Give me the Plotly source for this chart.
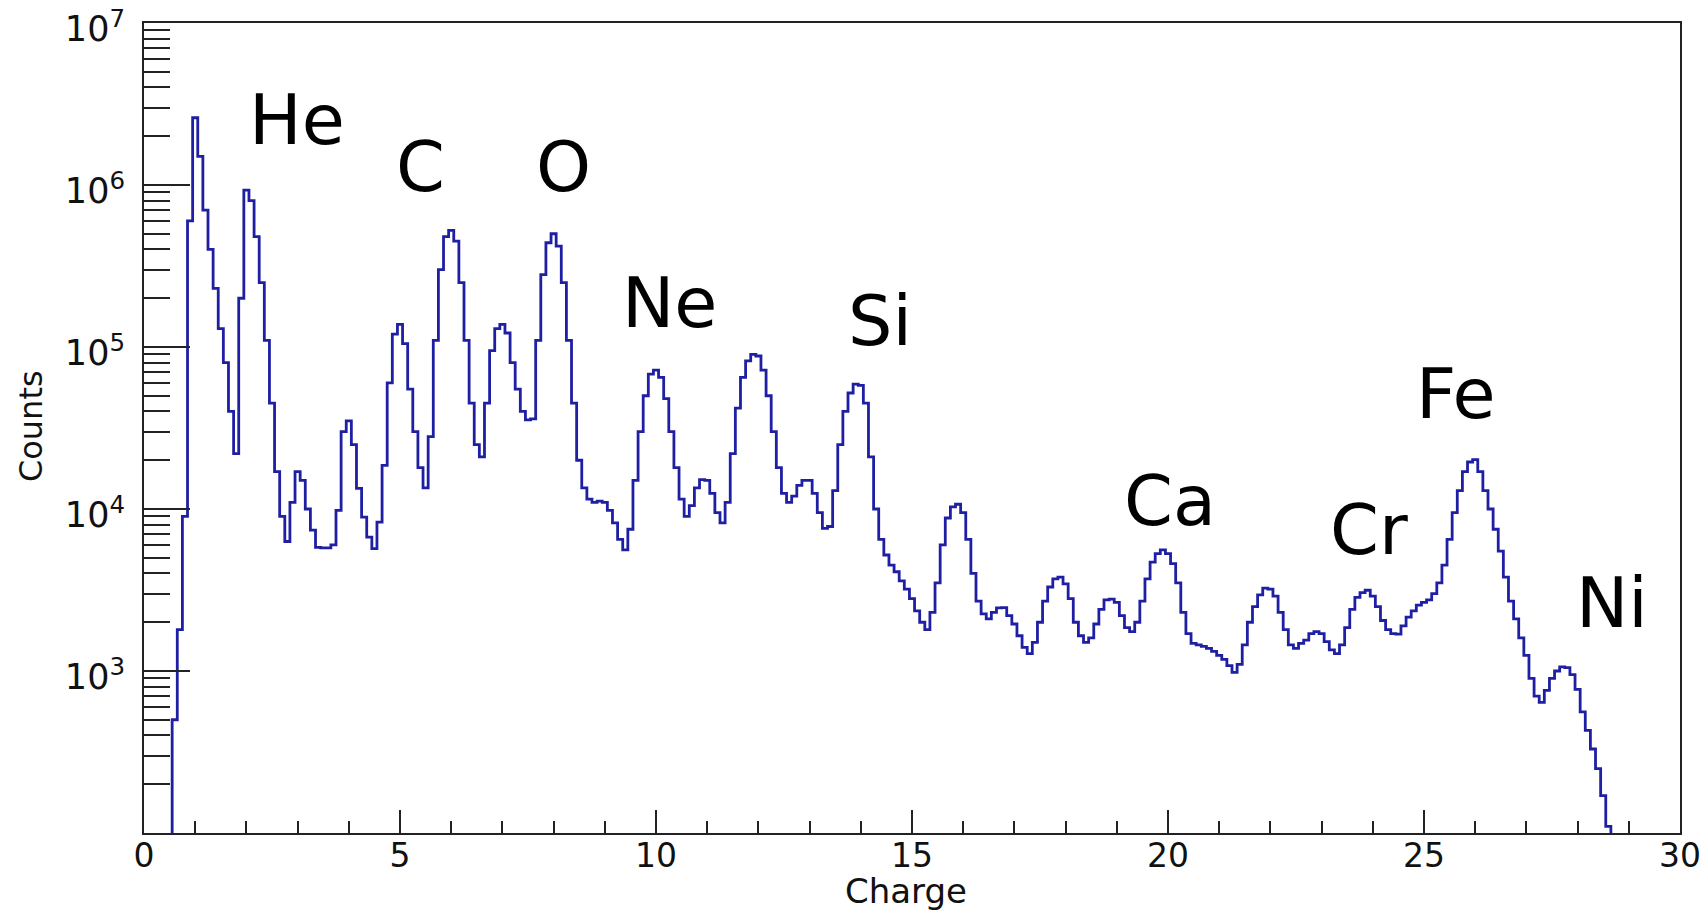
import plotly.graph_objects as go

# ---------------- data ----------------
bin_start = 0.4      # centre of first bin (charge units)
bin_width = 0.1

counts = [
    20, 60, 500, 1800, 9000, 600000,                                               # 0.4-0.9
    2600000, 1500000, 700000, 400000, 230000, 130000, 80000, 40000, 22000, 200000,  # 1.x
    930000, 800000, 480000, 250000, 110000, 45000, 17000, 9000, 6300, 11000,       # 2.x
    17000, 15000, 10000, 7400, 5800, 5750, 5750, 6000, 9800, 30000,                # 3.x
    35000, 25000, 13400, 8900, 6700, 5700, 8300, 18600, 60000, 120000,             # 4.x
    138000, 105000, 55000, 30000, 18000, 13500, 28000, 110000, 300000, 480000,     # 5.x
    525000, 450000, 250000, 110000, 45000, 25000, 21000, 45000, 95000, 130000,     # 6.x
    138000, 122000, 80000, 55000, 40000, 35500, 36000, 110000, 280000, 440000,     # 7.x
    500000, 420000, 250000, 110000, 45000, 20000, 13500, 11500, 11000, 11200,      # 8.x
    11000, 9800, 8200, 6500, 5600, 7500, 15000, 30000, 50000, 68000,               # 9.x
    72000, 65000, 48000, 30000, 18000, 11500, 9000, 10500, 13500, 15200,           # 10.x
    15000, 12500, 9500, 8200, 11000, 22000, 42000, 65000, 82000, 90000,            # 11.x
    88000, 72000, 50000, 30000, 18000, 12500, 11000, 12000, 14000, 15000,          # 12.x
    15000, 12500, 9500, 7600, 7800, 13000, 25000, 40000, 52000, 59000,             # 13.x
    58000, 45000, 21000, 10000, 6500, 5200, 4500, 4100, 3600, 3200,                # 14.x
    2800, 2350, 2000, 1800, 2300, 3500, 6000, 8800, 10300, 10700,                  # 15.x
    9500, 6500, 4000, 2700, 2250, 2100, 2300, 2450, 2460, 2200,                    # 16.x
    1950, 1650, 1400, 1280, 1500, 2000, 2700, 3300, 3700, 3800,                    # 17.x
    3450, 2800, 2000, 1650, 1500, 1600, 1950, 2400, 2750, 2780,                    # 18.x
    2650, 2200, 1850, 1750, 2000, 2700, 3700, 4700, 5300, 5600,                    # 19.x
    5300, 4600, 3500, 2300, 1700, 1480, 1450, 1420, 1380, 1320,                    # 20.x
    1250, 1180, 1080, 980, 1100, 1450, 2000, 2500, 2950, 3250,                     # 21.x
    3200, 2900, 2300, 1800, 1450, 1380, 1480, 1550, 1700, 1750,                    # 22.x
    1700, 1520, 1350, 1280, 1450, 1850, 2400, 2850, 3050, 3150,                    # 23.x
    2900, 2500, 2050, 1800, 1700, 1690, 1900, 2150, 2350, 2550,                    # 24.x
    2650, 2750, 3000, 3500, 4500, 6500, 9500, 13000, 17000, 19500,                 # 25.x
    20200, 17000, 13000, 10000, 7500, 5500, 3800, 2700, 2100, 1600,                # 26.x
    1250, 900, 700, 640, 760, 900, 1000, 1060, 1050, 950,                          # 27.x
    770, 560, 430, 330, 250, 170, 110, 60,                                         # 28.0-28.7
]
charge = [round(bin_start + i * bin_width, 2) for i in range(len(counts))]

element_names = ["He", "C", "O", "Ne", "Si", "Ca", "Cr", "Fe", "Ni"]
element_x = [2.98, 5.4, 8.2, 10.26, 14.38, 20.03, 23.92, 25.63, 28.68]
element_logy = [6.40, 6.11, 6.11, 5.27, 5.16, 4.05, 3.87, 4.71, 3.42]

y_major = [1e3, 1e4, 1e5, 1e6, 1e7]
y_major_text = ["10<sup>3</sup>", "10<sup>4</sup>", "10<sup>5</sup>",
                "10<sup>6</sup>", "10<sup>7</sup>"]
y_minor = [m * 10 ** e for e in range(2, 7) for m in range(2, 10)]
x_major = [0, 5, 10, 15, 20, 25, 30]
x_minor = list(range(0, 31))

# ---------------- figure ----------------
FONT = "DejaVu Sans"
AX = "#222222"

fig = go.Figure()
fig.add_trace(go.Scatter(
    x=charge, y=counts, mode="lines",
    line=dict(color="#1f1fa3", width=2.8, shape="hvh"),
    hoverinfo="x+y", showlegend=False,
))

for name, xv, yv in zip(element_names, element_x, element_logy):
    fig.add_annotation(x=xv, y=yv, xref="x", yref="y", text=name,
                       showarrow=False, font=dict(family=FONT, size=70, color="black"),
                       xanchor="center", yanchor="middle")

# axis titles (paper coords relative to the 1536x810 plot area)
fig.add_annotation(x=-0.0735, y=0.5025, xref="paper", yref="paper", text="Counts",
                   textangle=-90, showarrow=False,
                   font=dict(family=FONT, size=32, color="#111"),
                   xanchor="center", yanchor="middle")
fig.add_annotation(x=0.496, y=-0.072, xref="paper", yref="paper", text="Charge",
                   showarrow=False, font=dict(family=FONT, size=34, color="#111"),
                   xanchor="center", yanchor="middle")

fig.update_layout(
    width=1708, height=912,
    margin=dict(l=144, r=28, t=23, b=79, autoexpand=False),
    paper_bgcolor="white", plot_bgcolor="white",
    font=dict(family=FONT, color="#111"),
)
fig.update_xaxes(
    range=[0, 30], showgrid=False, zeroline=False,
    showline=True, mirror=True, linewidth=2, linecolor=AX,
    tickmode="array", tickvals=x_major, ticktext=[str(v) for v in x_major],
    ticks="inside", ticklen=23, tickwidth=2, tickcolor=AX,
    tickfont=dict(family=FONT, size=33, color="#111"),
    ticklabelstandoff=-8, ticklabeloverflow="allow",
    minor=dict(tickmode="array", tickvals=x_minor, ticks="inside",
               ticklen=12, tickwidth=2, tickcolor=AX, showgrid=False),
)
fig.update_yaxes(
    type="log", range=[2, 7], showgrid=False, zeroline=False,
    showline=True, mirror=True, linewidth=2, linecolor=AX,
    tickmode="array", tickvals=y_major, ticktext=y_major_text,
    ticks="inside", ticklen=46, tickwidth=2, tickcolor=AX,
    tickfont=dict(family=FONT, size=35, color="#111"),
    ticklabelstandoff=10, ticklabelshift=6, ticklabeloverflow="allow",
    minor=dict(tickmode="array", tickvals=y_minor, ticks="inside",
               ticklen=26, tickwidth=2, tickcolor=AX, showgrid=False),
)

# remove the default 8px page margin so the 1708x912 figure fills the window
fig.write_html("out.html", config={"displayModeBar": False},
               post_script="document.body.style.margin='0px';")
